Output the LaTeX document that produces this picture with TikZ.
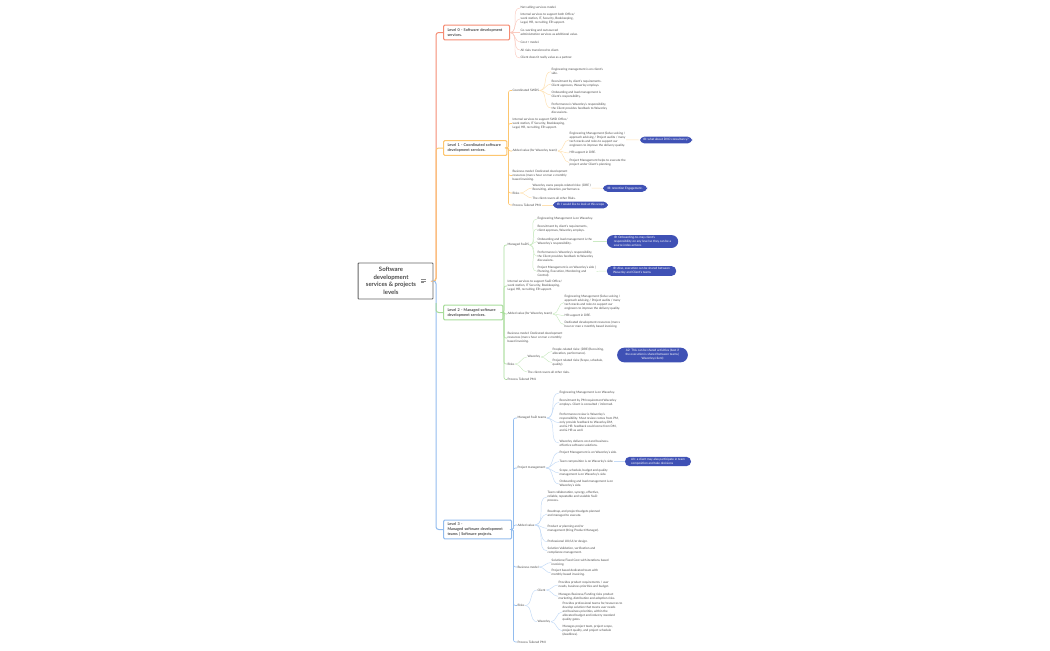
\documentclass[tikz,border=0pt]{standalone}
\usepackage{fontspec}
\setmainfont{Lato}
\definecolor{inktext}{HTML}{4A4A4A}
\definecolor{lvlzero}{HTML}{F58C73}
\definecolor{lvlone}{HTML}{FDC66F}
\definecolor{lvltwo}{HTML}{A8DC9B}
\definecolor{lvlthree}{HTML}{92BCEE}
\definecolor{pillblue}{HTML}{3F51B5}
\tikzset{
  leaf/.style={anchor=west,align=left,inner sep=0pt,outer sep=.5pt,text=inktext,font=\fontsize{2.3}{2.95}\selectfont},
  levelbox/.style={anchor=west,align=left,draw,line width=.8pt,fill=white,rounded corners=.8pt,inner sep=0pt,text=inktext,font=\fontsize{2.85}{3.7}\selectfont\bfseries},
  pill/.style={fill=pillblue,rounded corners=3.4pt,align=left,inner sep=0pt,text=white,font=\fontsize{2.3}{2.95}\selectfont},
  joinzero/.style={lvlzero!45,line width=.35pt},
  joinone/.style={lvlone!55,line width=.35pt},
  jointwo/.style={lvltwo!60,line width=.35pt},
  jointhree/.style={lvlthree!55,line width=.35pt},
  curve/.style={out=0,in=180},
  trunkline/.style={line width=.75pt,rounded corners=2pt},
  stemline/.style={line width=.45pt,rounded corners=1.5pt},
}
\begin{document}
\begin{tikzpicture}[x=.75pt,y=.75pt]
\useasboundingbox (0,0) rectangle (1050,-650);
%		root
\node [draw=black!60,line width=.7pt,fill=white,rounded corners=.6pt,minimum width=56.2pt,minimum height=27pt,inner sep=0pt] (root) at (395.5,-281) {};
\node [align=center,inner sep=0pt,text=inktext,font=\fontsize{4.5}{5.6}\selectfont\bfseries] (roottext) at (391,-281) {Software\\development\\services \& projects\\levels};
\coordinate (noteicon) at (423.5,-281);
\draw [black!45,line width=.4pt] (421,-279.3) -- (426,-279.3) (421,-281) -- (426,-281) (421,-282.7) -- (424,-282.7);
\coordinate (trunk) at (436,-281);
%		level boxes
\node [levelbox,draw=lvlzero,text width=43.5pt,minimum height=11pt,inner xsep=3pt] (lzero) at (443,-32.5) {Level 0 - Software development services.};
\node [levelbox,draw=lvlone,text width=41.5pt,minimum height=11pt,inner xsep=3pt] (lone) at (443,-148) {Level 1 - Coordinated software development services.};
\node [levelbox,draw=lvltwo,text width=38.5pt,minimum height=11pt,inner xsep=3pt] (ltwo) at (443,-312.5) {Level 2 - Managed software development services.};
\node [levelbox,draw=lvlthree,text width=45pt,minimum height=14pt,inner xsep=3pt] (lthree) at (443,-529.5) {Level 3 -\\Managed software development\\teams | Software projects.};
\draw [lvlzero,trunkline] (root.east) -- (trunk) |- (lzero.west);
\draw [lvlone,trunkline] (root.east) -- (trunk) |- (lone.west);
\draw [lvlthree,trunkline] (root.east) -- (trunk) |- (lthree.west);
\draw [lvltwo,trunkline] (trunk) ++(0,-22) |- (ltwo.west);
%		level 0
\node [leaf] (za) at (520,-8) {Net selling services model.};
\node [leaf] (zb) at (520,-19) {Internal services to support both Office/\\work station, IT, Security, Bookkeeping,\\Legal, HR, recruiting, ER support.};
\node [leaf] (zc) at (520,-32.5) {Co-working and outsourced\\administration services as additional value.};
\node [leaf] (zd) at (520,-42) {Cost + model.};
\node [leaf] (ze) at (520,-50) {All risks transferred to client.};
\node [leaf] (zf) at (520,-58) {Client doesn't really value as a partner.};
\foreach \kid in {za,zb,zc,zd,ze,zf}
	\draw [joinzero] (lzero.east) to [curve] (\kid.west);
%		level 1
\coordinate (ltrunk) at (508.5,-148);
\node [leaf] (oa) at (512,-90.5) {Coordinated SWDS};
\node [leaf] (ob) at (512,-123.5) {Internal services to support SWD Office/\\work station, IT Security, Bookkeeping,\\Legal, HR, recruiting, ER support.};
\node [leaf] (oc) at (512,-151) {Added value (for Waverley team):};
\node [leaf] (od) at (512,-175.5) {Business model: Dedicated development\\resources (man x hour or man x monthly\\based invoicing.};
\node [leaf] (oe) at (512,-193) {Risks};
\node [leaf] (of) at (512,-205) {Process Tailored PMI.};
\foreach \kid in {oa,ob,oc,od,oe,of}
	\draw [lvlone,stemline] (lone.east) -- (ltrunk) |- (\kid.west);
\node [leaf] (oaa) at (551,-71.7) {Engineering management is on client's\\side.};
\node [leaf] (oab) at (551,-84) {Recruitment by client's requirements.\\Client approves, Waverley employs.};
\node [leaf] (oac) at (551,-95) {Onboarding and load management is\\Client's responsibility.};
\node [leaf] (oad) at (551,-108) {Performance is Waverley's responsibility,\\the Client provides feedback to Waverley\\discussions.};
\foreach \kid in {oaa,oab,oac,oad}
	\draw [joinone] (oa.east) to [curve] (\kid.west);
\node [leaf] (oca) at (569,-139.8) {Engineering Management (Solve solving /\\approach advising / Project audits / many\\tech stacks and roles to support our\\engineers to improve the delivery quality.};
\node [leaf] (ocb) at (569,-153) {HR support in DRE.};
\node [leaf] (occ) at (569,-162.5) {Project Management helps to execute the\\project under Client's planning.};
\foreach \kid in {oca,ocb,occ}
	\draw [joinone] (oc.east) to [curve] (\kid.west);
\node [leaf] (oea) at (532,-188) {Waverley owns people-related risks: (DRE )\\Recruiting, allocation, performance.};
\node [leaf] (oeb) at (532,-198) {The client covers all other Risks.};
\foreach \kid in {oea,oeb}
	\draw [joinone] (oe.east) to [curve] (\kid.west);
\node [pill,minimum width=39pt,minimum height=5.2pt] (pa) at (666,-140) {IB: what about DVO consultancy?};
\node [pill,minimum width=33pt,minimum height=5.2pt] (pb) at (625,-188.3) {IB: retention Engagement.};
\node [pill,minimum width=41pt,minimum height=5.2pt] (pc) at (580.5,-205) {IB: I would like to look at this scope};
\draw [joinone] (oca.east) -- (pa.west);
\draw [joinone] (oea.east) -- (pb.west);
\draw [joinone] (of.east) -- (pc.west);
%		level 2
\coordinate (mtrunk) at (504,-312.5);
\node [leaf] (ma) at (507,-245) {Managed SwDS};
\node [leaf] (mb) at (507,-286) {Internal services to support SwD Office/\\work station, IT Security, Bookkeeping,\\Legal, HR, recruiting, ER support.};
\node [leaf] (mc) at (507,-314) {Added value (for Waverley team):};
\node [leaf] (md) at (507,-338) {Business model: Dedicated development\\resources (man x hour or man x monthly\\based invoicing.};
\node [leaf] (me) at (507,-364) {Risks};
\node [leaf] (mf) at (507,-379.5) {Process Tailored PMI.};
\foreach \kid in {ma,mb,mc,md,me,mf}
	\draw [lvltwo,stemline] (ltwo.east) -- (mtrunk) |- (\kid.west);
\node [leaf] (maa) at (537,-219) {Engineering Management is on Waverley.};
\node [leaf] (mab) at (537,-229) {Recruitment by client's requirements,\\client approves, Waverley employs.};
\node [leaf] (mac) at (537,-241.5) {Onboarding and load management is the\\Waverley's responsibility.};
\node [leaf] (mad) at (537,-256.3) {Performance is Waverley's responsibility,\\the Client provides feedback to Waverley\\discussions.};
\node [leaf] (mae) at (537,-271.3) {Project Management is on Waverley's side |\\Planning, Execution, Monitoring and\\Control).};
\foreach \kid in {maa,mab,mac,mad,mae}
	\draw [jointwo] (ma.east) to [curve] (\kid.west);
\node [leaf] (mca) at (564,-302.5) {Engineering Management (Solve solving /\\approach advising / Project audits / many\\tech stacks and roles to support our\\engineers to improve the delivery quality.};
\node [leaf] (mcb) at (564,-315.5) {HR support in DRE.};
\node [leaf] (mcc) at (564,-324.5) {Dedicated development resources (man x\\hour or man x monthly based invoicing.};
\foreach \kid in {mca,mcb,mcc}
	\draw [jointwo] (mc.east) to [curve] (\kid.west);
\node [leaf] (mea) at (527,-357) {Waverley};
\node [leaf] (meb) at (527,-372) {The client covers all other risks.};
\foreach \kid in {mea,meb}
	\draw [jointwo] (me.east) to [curve] (\kid.west);
\node [leaf] (meaa) at (552,-351.5) {People-related risks: (DRE (Recruiting,\\allocation, performance).};
\node [leaf] (meab) at (552,-362.5) {Project related risks (Scope, schedule,\\quality).};
\foreach \kid in {meaa,meab}
	\draw [jointwo] (mea.east) to [curve] (\kid.west);
\node [pill,minimum width=53.5pt,minimum height=9.6pt,rounded corners=4.8pt] (pd) at (642.5,-241.5) {IR: Onboarding-to-may client's\\responsibility on any level so they can be a\\source index actions};
\node [pill,minimum width=52pt,minimum height=7.3pt] (pe) at (641.5,-271) {IR: Also, execution can be shared between\\Waverley and Client's teams};
\node [pill,minimum width=53pt,minimum height=11pt,rounded corners=5.4pt,align=center] (pf) at (652.5,-355) {A2: This can be shared activities (best if\\the execution is shared between teams |\\Waverley/client)};
\draw [jointwo] (mac.east) -- (pd.west);
\draw [jointwo] (mae.east) -- (pe.west);
%		level 3
\coordinate (strunk) at (513.5,-529.5);
\node [leaf] (sa) at (517,-418) {Managed SwD teams};
\node [leaf] (sb) at (517,-468) {Project management};
\node [leaf] (sc) at (517,-525) {Added value};
\node [leaf] (sd) at (517,-567) {Business model};
\node [leaf] (se) at (517,-605.5) {Risks};
\node [leaf] (sf) at (517,-642) {Process Tailored PMI};
\foreach \kid in {sa,sb,sc,sd,se,sf}
	\draw [lvlthree,stemline] (lthree.east) -- (strunk) |- (\kid.west);
\node [leaf] (saa) at (559,-393) {Engineering Management is on Waverley.};
\node [leaf] (sab) at (559,-402.5) {Recruitment by PM requirement Waverley\\employs. Client is consulted / informed.};
\node [leaf] (sac) at (559,-422.7) {Performance review is Waverley's\\responsibility. Must review comes from PM,\\only provide feedback to Waverley.DM,\\and \& HR. feedback could come from DM,\\and \& HR as well.};
\node [leaf] (sad) at (559,-443) {Waverley delivers cost and business-\\effective software solutions.};
\foreach \kid in {saa,sab,sac,sad}
	\draw [jointhree] (sa.east) to [curve] (\kid.west);
\node [leaf] (sba) at (559,-452.5) {Project Management is on Waverley's side.};
\node [leaf] (sbb) at (559,-461.5) {Team composition is on Waverley's side.};
\node [leaf] (sbc) at (559,-473) {Scope, schedule, budget and quality\\management is on Waverley's side.};
\node [leaf] (sbd) at (559,-484) {Onboarding and load management is on\\Waverley's side.};
\foreach \kid in {sba,sbb,sbc,sbd}
	\draw [jointhree] (sb.east) to [curve] (\kid.west);
\node [leaf] (sca) at (547,-497) {Team collaboration, synergy, effective,\\reliable, repeatable and scalable SwD\\process.};
\node [leaf] (scb) at (547,-514) {Roadmap, and project budgets planned\\and managed to execute.};
\node [leaf] (scc) at (547,-528.3) {Product ar planning and/or\\management (thing Product Manager).};
\node [leaf] (scd) at (547,-541.7) {Professional UX/UI/er design.};
\node [leaf] (sce) at (547,-550.7) {Solution Validation, verification and\\compliance management.};
\foreach \kid in {sca,scb,scc,scd,sce}
	\draw [jointhree] (sc.east) to [curve] (\kid.west);
\node [leaf] (sda) at (551,-562.5) {Solutions/Fixed Cost with iterations based\\invoicing.};
\node [leaf] (sdb) at (551,-573) {Project based dedicated team with\\monthly based invoicing.};
\foreach \kid in {sda,sdb}
	\draw [jointhree] (sd.east) to [curve] (\kid.west);
\node [leaf] (sea) at (537,-590) {Client};
\node [leaf] (seb) at (537,-621.7) {Waverley};
\foreach \kid in {sea,seb}
	\draw [jointhree] (se.east) to [curve] (\kid.west);
\node [leaf] (seaa) at (558,-585) {Provides product requirements / user\\needs, business priorities and budget.};
\node [leaf] (seab) at (558,-596.3) {Manages Business/Funding risks product\\marketing, distribution and adoption risks.};
\foreach \kid in {seaa,seab}
	\draw [jointhree] (sea.east) to [curve] (\kid.west);
\node [leaf] (seba) at (562,-612) {Provides professional teams for/resources to\\develop solution that meets user needs\\and business priorities, within the\\allocated budget and industry standard\\quality gates.};
\node [leaf] (sebb) at (562,-630.7) {Manages project team, project scope,\\project quality, and project schedule\\(deadlines).};
\foreach \kid in {seba,sebb}
	\draw [jointhree] (seb.east) to [curve] (\kid.west);
\node [pill,minimum width=49.5pt,minimum height=7pt] (pg) at (658,-461.5) {Ah: a client may also participate in team\\composition and take decisions};
\draw [jointhree] (sbb.east) -- (pg.west);
\end{tikzpicture}
\end{document}
